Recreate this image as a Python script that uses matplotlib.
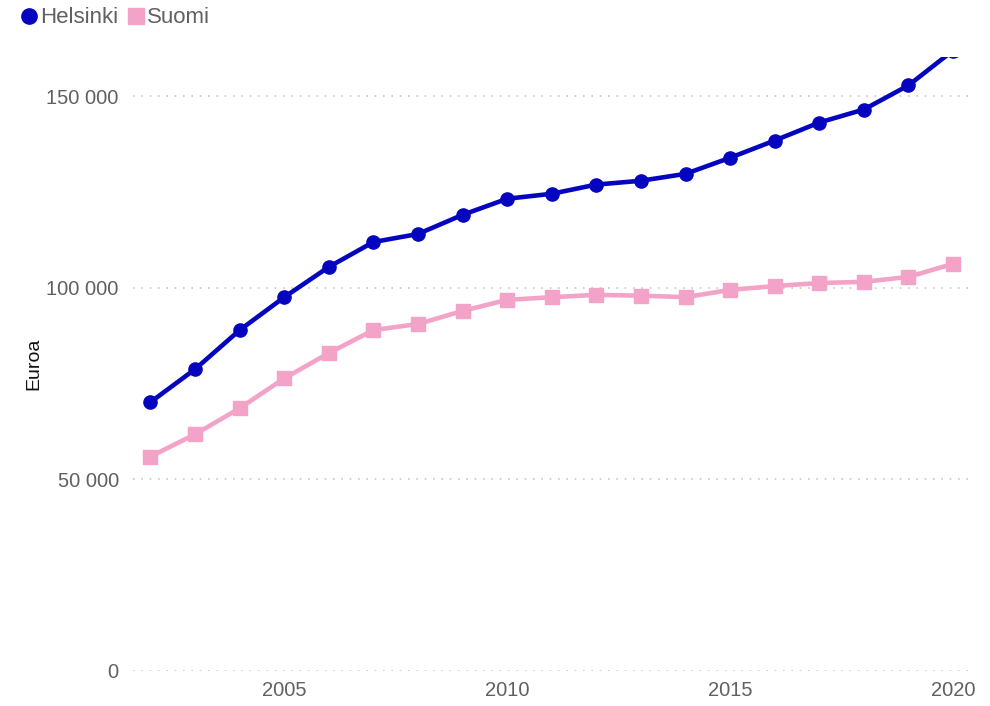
import matplotlib
matplotlib.use("Agg")
import matplotlib.pyplot as plt
from matplotlib.ticker import FuncFormatter
from matplotlib.lines import Line2D

plt.rcParams['font.family'] = ['Liberation Sans', 'DejaVu Sans']

years = list(range(2002, 2021))
helsinki = [70200, 78800, 89000, 97600, 105500, 112000, 114100, 119100, 123300,
            124600, 127000, 128000, 129800, 134000, 138500, 143200, 146600,
            152900, 162000]
suomi = [56000, 61800, 68600, 76400, 83000, 89000, 90600, 94000, 96900,
         97600, 98200, 98000, 97600, 99500, 100500, 101300, 101600, 102900,
         106300]
y_ticks = [0, 50000, 100000, 150000]
x_ticks = [2005, 2010, 2015, 2020]

blue = '#0505c0'
pink = '#f4a3c8'
grey = '#606060'

fig = plt.figure(figsize=(9.9, 7.06), dpi=100)
ax = fig.add_axes([0.134, 0.0496, 0.848, 0.8696])

ax.plot(years, helsinki, color=blue, lw=3.3, marker='o', ms=9.5, zorder=3)
ax.plot(years, suomi, color=pink, lw=3.3, marker='s', ms=9.5, zorder=3)

ax.set_xlim(2001.6, 2020.43)
ax.set_ylim(0, 160300)
ax.set_yticks(y_ticks)
ax.set_xticks(x_ticks)
ax.yaxis.set_major_formatter(FuncFormatter(lambda v, p: f"{int(v):,}".replace(",", " ")))
ax.grid(axis='y', color='#c8c8c8', linestyle=(0, (1, 4)), lw=1.2)
ax.set_axisbelow(True)
for s in ax.spines.values():
    s.set_visible(False)
ax.tick_params(length=0, labelsize=14.5, colors=grey)
ax.tick_params(axis='y', pad=10)
ax.tick_params(axis='x', pad=7)
ax.set_ylabel('Euroa', fontsize=14, color='#111111', labelpad=3)

handles = [Line2D([], [], color=blue, marker='o', ls='none', ms=11),
           Line2D([], [], color=pink, marker='s', ls='none', ms=11)]
fig.legend(handles, ['Helsinki', 'Suomi'], loc='upper left',
           bbox_to_anchor=(-0.002, 1.018), ncol=2, frameon=False,
           fontsize=16, handletextpad=0.0, columnspacing=0.3,
           handlelength=1.0, labelcolor=grey)

fig.savefig('out.png', dpi=100)
